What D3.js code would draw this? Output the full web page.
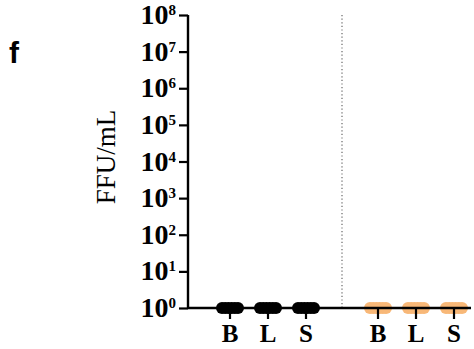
<!DOCTYPE html>
<html><head><meta charset="utf-8">
<script src="https://cdn.jsdelivr.net/npm/d3@7"></script>
<style>body{margin:0;background:#fff}svg{display:block}</style>
</head><body>
<svg id="c" width="474" height="349"></svg>
<script>
const groups = ["g1", "g2"];
const categories = ["B", "L", "S"];
const groupColors = ["#000000", "#F8B878"];
// values (FFU/mL) per group per category; all at detection floor 10^0
const g1B = [1, 1, 1, 1, 1, 1];
const g1L = [1, 1, 1, 1, 1, 1];
const g1S = [1, 1, 1, 1, 1, 1];
const g2B = [1, 1, 1, 1, 1, 1];
const g2L = [1, 1, 1, 1, 1, 1];
const g2S = [1, 1, 1, 1, 1, 1];
const tickExps = [0, 1, 2, 3, 4, 5, 6, 7, 8];
const yLabel = "FFU/mL";
const panelLabel = "f";

const values = [[g1B, g1L, g1S], [g2B, g2L, g2S]];

const svg = d3.select("#c");
const x0 = 188, x1 = 471, yTop = 15, yBot = 308;
const serif = "Liberation Serif, Times New Roman, serif";

const y = d3.scaleLog().domain([1, 1e8]).range([yBot, yTop]);
const gx = d3.scalePoint().domain(groups).range([268, 416]);
const cx = d3.scalePoint().domain(categories).range([-38, 38]);
const jitter = d3.scaleLinear().domain([0, 5]).range([-8, 8]);

// divider
const mid = (gx("g1") + gx("g2")) / 2;
svg.append("line").attr("x1", mid).attr("x2", mid).attr("y1", yTop).attr("y2", yBot)
  .attr("stroke", "#666").attr("stroke-width", 1.2).attr("stroke-dasharray", "1.2,2.4");

function drawPoints(gi) {
  const g = groups[gi];
  categories.forEach((c, j) => {
    svg.append("g").selectAll("circle").data(values[gi][j]).join("circle")
      .attr("cx", (d, k) => gx(g) + cx(c) + jitter(k))
      .attr("cy", d => y(d))
      .attr("r", 6)
      .attr("fill", groupColors[gi]);
  });
}
drawPoints(1);

// x axis line + ticks
svg.append("line").attr("x1", x0).attr("x2", x1).attr("y1", yBot).attr("y2", yBot)
  .attr("stroke", "#000").attr("stroke-width", 2.4);
groups.forEach(g => categories.forEach(c => {
  const xx = gx(g) + cx(c);
  svg.append("line").attr("x1", xx).attr("x2", xx).attr("y1", yBot).attr("y2", yBot + 11)
    .attr("stroke", "#000").attr("stroke-width", 2.2);
  svg.append("text").attr("x", xx).attr("y", 342).attr("text-anchor", "middle")
    .attr("font-family", serif).attr("font-weight", "bold")
    .attr("font-size", 25).text(c);
}));

drawPoints(0);

// y axis
const yAxis = d3.axisLeft(y).tickValues(tickExps.map(e => Math.pow(10, e)))
  .tickSize(9).tickFormat("");
const ya = svg.append("g").attr("transform", `translate(${x0},0)`).call(yAxis);
ya.select(".domain").attr("stroke-width", 2.4).attr("d", `M0,${yTop}V${yBot}`);
ya.selectAll(".tick line").attr("stroke-width", 2.2);

const lab = svg.append("g");
tickExps.forEach(e => {
  const t = lab.append("text").attr("x", 176).attr("y", y(Math.pow(10, e)) + 9)
    .attr("text-anchor", "end")
    .attr("font-family", serif).attr("font-weight", "bold")
    .attr("font-size", 28);
  t.append("tspan").text("10");
  t.append("tspan").attr("dy", -9).attr("font-size", 15).text(e);
});

svg.append("text").attr("transform", `translate(115,157) rotate(-90)`)
  .attr("text-anchor", "middle")
  .attr("font-family", serif)
  .attr("font-size", 27).text(yLabel);

svg.append("text").attr("x", 9).attr("y", 63)
  .attr("font-family", "Liberation Sans, Arial, sans-serif").attr("font-weight", "bold")
  .attr("font-size", 30).text(panelLabel);
</script>
</body></html>
